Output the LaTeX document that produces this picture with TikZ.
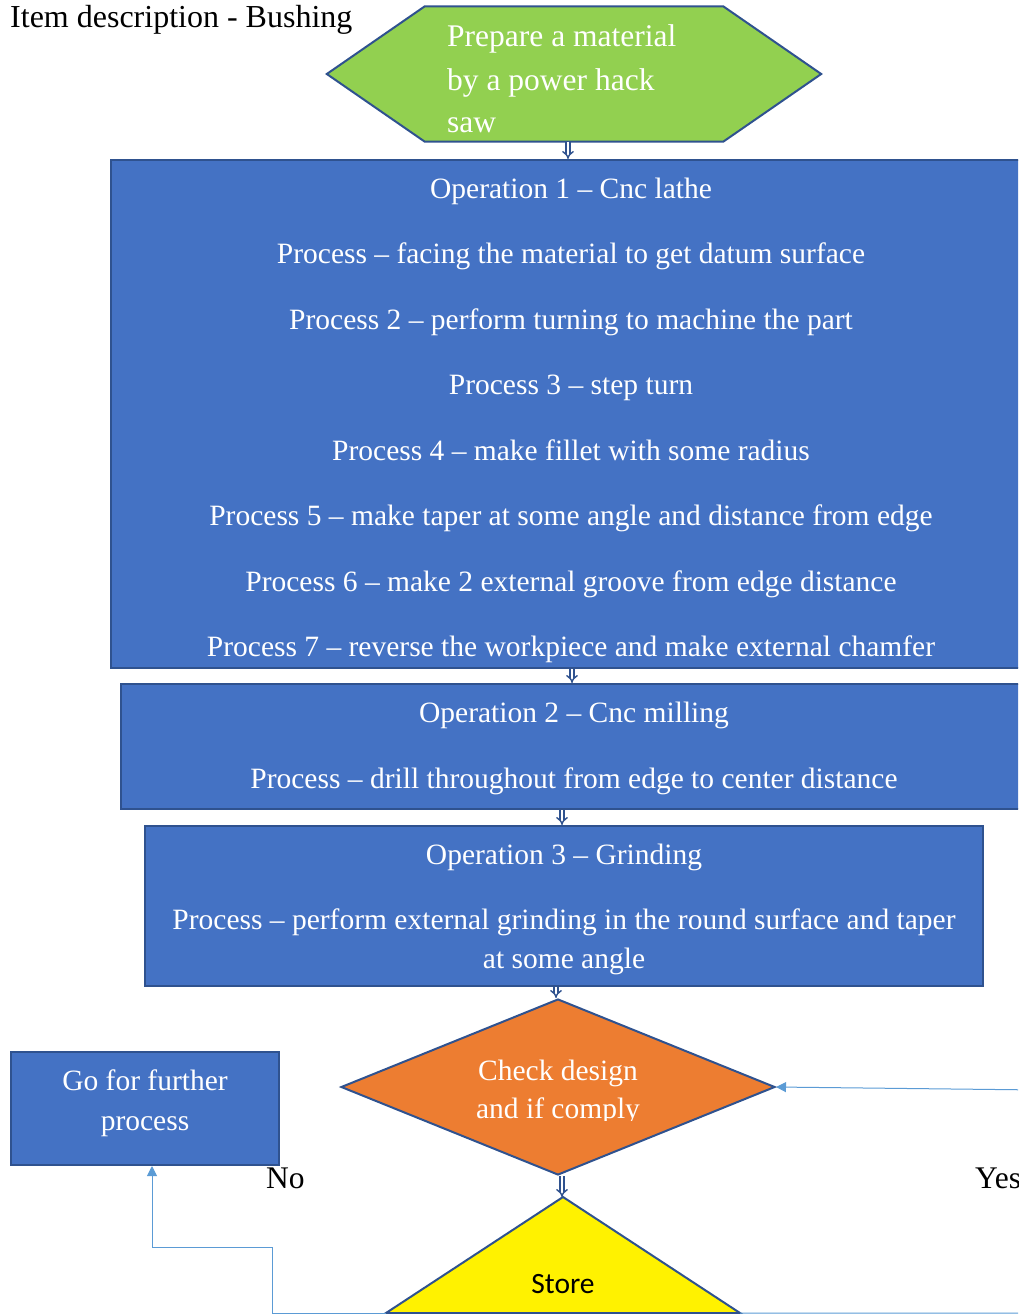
\documentclass[tikz,border=0pt]{standalone}
\usepackage{fontspec}
\setmainfont{Liberation Serif}
\newfontfamily\storefont{Carlito}
\usetikzlibrary{arrows.meta,shapes.geometric}
\definecolor{boxblue}{HTML}{4472C4}
\definecolor{edgeblue}{HTML}{2F528F}
\definecolor{leafgreen}{HTML}{92D050}
\definecolor{checkorange}{HTML}{ED7D31}
\definecolor{linkblue}{HTML}{5B9BD5}
\tikzset{
  body/.style={font=\fontsize{29.5}{32}\selectfont},
  optext/.style={body,text=white,anchor=base,inner sep=0pt},
  opbox/.style={draw=edgeblue,fill=boxblue,line width=2pt,rectangle,inner sep=0pt},
  flowarrow/.style={draw=edgeblue,double=white,double distance=2.5pt,line width=1.4pt,-{Implies}},
  link/.style={draw=linkblue,line width=1pt},
}
\begin{document}
\begin{tikzpicture}[x=1pt,y=-1pt]
\useasboundingbox (0,0) rectangle (1018,1314);
\clip (0,0) rectangle (1018,1314);

% heading
\node[anchor=base west,inner sep=0pt,font=\fontsize{32}{34}\selectfont] (title) at (10,28) {Item description - Bushing};

% raw material preparation (hexagon)
\node[minimum width=494pt,minimum height=135pt,inner sep=0pt] (prep) at (574,74) {};
\draw[draw=edgeblue,fill=leafgreen,line width=2pt]
  (prep.west) -- ([xshift=98pt]prep.north west) -- ([xshift=-98pt]prep.north east)
  -- (prep.east) -- ([xshift=-98pt]prep.south east) -- ([xshift=98pt]prep.south west) -- cycle;
\foreach \t/\y [count=\i] in {Prepare a material/47,by a power hack/90,saw/132}
  \node[text=white,anchor=base west,inner sep=0pt,font=\fontsize{31.5}{34}\selectfont] (prep\i) at (447,\y) {\t};

% operation 1
\node[opbox,minimum width=920pt,minimum height=508pt] (op1) at (571,414) {};
\begin{scope}
\clip (111,160) rectangle (1031,667);
\foreach \t/\y [count=\i] in {
  Operation 1 -- Cnc lathe/198,
  Process -- facing the material to get datum surface/263,
  Process 2 -- perform turning to machine the part/329,
  Process 3 -- step turn/394,
  Process 4 -- make fillet with some radius/460,
  Process 5 -- make taper at some angle and distance from edge/525,
  Process 6 -- make 2 external groove from edge distance/591,
  Process 7 -- reverse the workpiece and make external chamfer/656}
  \node[optext] (opa\i) at (571,\y) {\t};
\end{scope}

% operation 2
\node[opbox,minimum width=906pt,minimum height=125pt] (op2) at (574,746.5) {};
\node[optext] (opb1) at (574,722) {Operation 2 -- Cnc milling};
\node[optext] (opb2) at (574,788) {Process -- drill throughout from edge to center distance};

% operation 3
\node[opbox,minimum width=838pt,minimum height=160pt] (op3) at (564,906) {};
\node[optext] (opc1) at (564,864) {Operation 3 -- Grinding};
\node[optext] (opc2) at (564,929) {Process -- perform external grinding in the round surface and taper};
\node[optext] (opc3) at (564,968) {at some angle};

% design check
\node[diamond,draw=edgeblue,fill=checkorange,line width=2pt,minimum width=434pt,minimum height=176pt,inner sep=0pt] (check) at (558,1087) {};
\begin{scope}
\clip (400,1040) rectangle (720,1120);
\node[optext] (chk1) at (558,1080) {Check design};
\node[optext] (chk2) at (558,1118) {and if comply};
\end{scope}

% storage
\coordinate (store) at (563,1197);
\coordinate (storeL) at (386,1313);
\coordinate (storeR) at (740,1313);
\draw[draw=edgeblue,fill=yellow,line width=2pt] (store) -- (storeR) -- (storeL) -- cycle;
\node[anchor=base,inner sep=0pt,font=\storefont\fontsize{29.5}{32}\selectfont] (storetext) at (563,1293) {Store};

% rework box
\node[opbox,minimum width=268pt,minimum height=113pt] (further) at (145,1108.5) {};
\node[optext] (fur1) at (145,1090) {Go for further};
\node[optext] (fur2) at (145,1130) {process};

% branch labels
\node[anchor=base west,inner sep=0pt,font=\fontsize{31.5}{34}\selectfont] (no) at (266,1188) {No};
\node[anchor=base west,inner sep=0pt,font=\fontsize{31.5}{34}\selectfont] (yes) at (975,1188) {Yes};

% main flow
\draw[flowarrow] (prep.south -| 568,0) -- (op1.north -| 568,0);
\draw[flowarrow] (op1.south -| 572,0) -- (op2.north -| 572,0);
\draw[flowarrow] (op2.south -| 562,0) -- (op3.north -| 562,0);
\draw[flowarrow] (op3.south -| 556,0) -- (check.north -| 556,0);
\draw[flowarrow] (check.south -| 562,0) -- (store -| 562,0);

% return links
\draw[link,-{Triangle[length=10pt,width=10pt]}] (storeL) -- (272,1313) -- (272,1247) -- (152,1247) -- (further.south -| 152,0);
\draw[link,-{Triangle[length=10pt,width=10pt]}] (storeR) -- (1040,1313) -- (1040,1090) -- (check.east);
\end{tikzpicture}
\end{document}
